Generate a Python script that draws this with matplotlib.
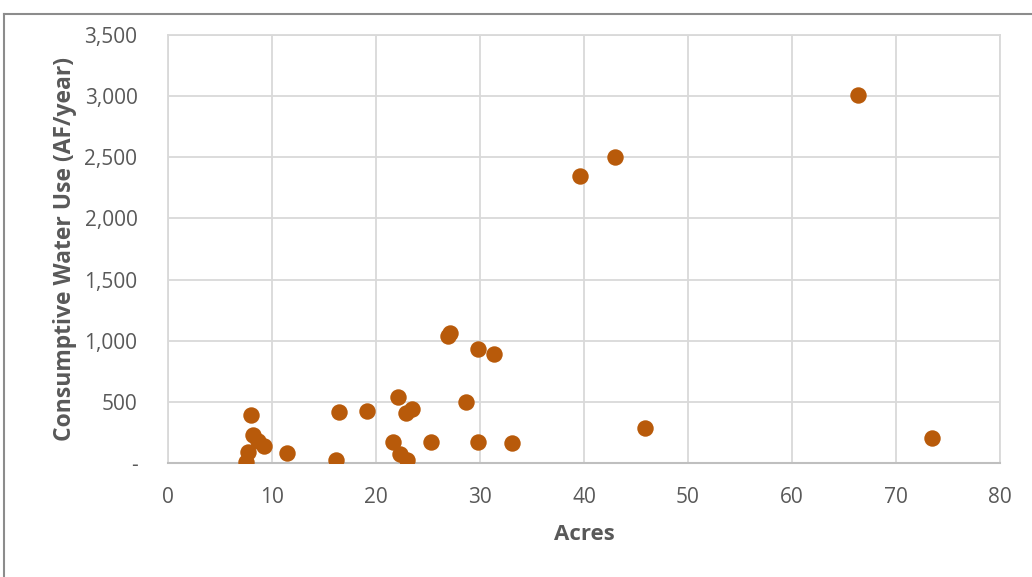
import matplotlib
matplotlib.use("Agg")
import matplotlib.pyplot as plt
from matplotlib.lines import Line2D
from matplotlib.ticker import FuncFormatter, MultipleLocator

acres = [7.5, 7.7, 8.0, 8.2, 8.7, 9.2, 11.4, 16.15, 16.4, 19.1, 21.6, 22.15, 22.3,
         22.9, 23.0, 23.5, 25.25, 26.95, 27.1, 28.7, 29.8, 29.85, 31.35, 33.1,
         39.6, 42.95, 45.9, 66.35, 73.5]
water_use = [10, 90, 395, 230, 180, 140, 82, 28, 419, 425, 170, 537, 74,
             406, 25, 441, 170, 1038, 1066, 496, 932, 170, 891, 166,
             2347, 2504, 283, 3010, 202]

x_label = "Acres"
y_label = "Consumptive Water Use (AF/year)"

plt.rcParams['font.family'] = ['Open Sans', 'DejaVu Sans']
tick_color = '#595959'
grid_color = '#d9d9d9'
marker_color = '#b85a0a'

fig = plt.figure(figsize=(10.32, 5.77), dpi=100)
ax = fig.add_axes([168/1032, 1-463/577, (1000-168)/1032, (463-35)/577])

ax.scatter(acres, water_use, s=140, color=marker_color, zorder=3, linewidths=0)

ax.set_xlim(0, 80)
ax.set_ylim(0, 3500)
ax.xaxis.set_major_locator(MultipleLocator(10))
ax.yaxis.set_major_locator(MultipleLocator(500))

def yfmt(v, pos):
    if abs(v) < 1e-9:
        return "-"
    return f"{int(v):,}"
ax.yaxis.set_major_formatter(FuncFormatter(yfmt))

ax.grid(True, color=grid_color, linewidth=1.3, zorder=0)
ax.set_axisbelow(True)
for side in ['top', 'right', 'left']:
    ax.spines[side].set_color(grid_color)
    ax.spines[side].set_linewidth(1.3)
ax.spines['bottom'].set_color('#bfbfbf')
ax.spines['bottom'].set_linewidth(1.5)

ax.tick_params(axis='both', length=0, labelsize=15, labelcolor=tick_color)
ax.tick_params(axis='x', pad=17)
ax.tick_params(axis='y', pad=22)

ax.set_xlabel(x_label, fontsize=16, fontweight='bold', color=tick_color, labelpad=12)
ax.set_ylabel(y_label, fontsize=16.5, fontweight='bold', color=tick_color, labelpad=5)

# chart border
fig.add_artist(Line2D([3.5/1032, 3.5/1032], [0, 1-13.5/577], transform=fig.transFigure,
                      color='#8c8c8c', linewidth=1.5))
fig.add_artist(Line2D([3.5/1032, 1], [1-13.5/577, 1-13.5/577], transform=fig.transFigure,
                      color='#8c8c8c', linewidth=1.5))

fig.savefig("out.png", dpi=100)
